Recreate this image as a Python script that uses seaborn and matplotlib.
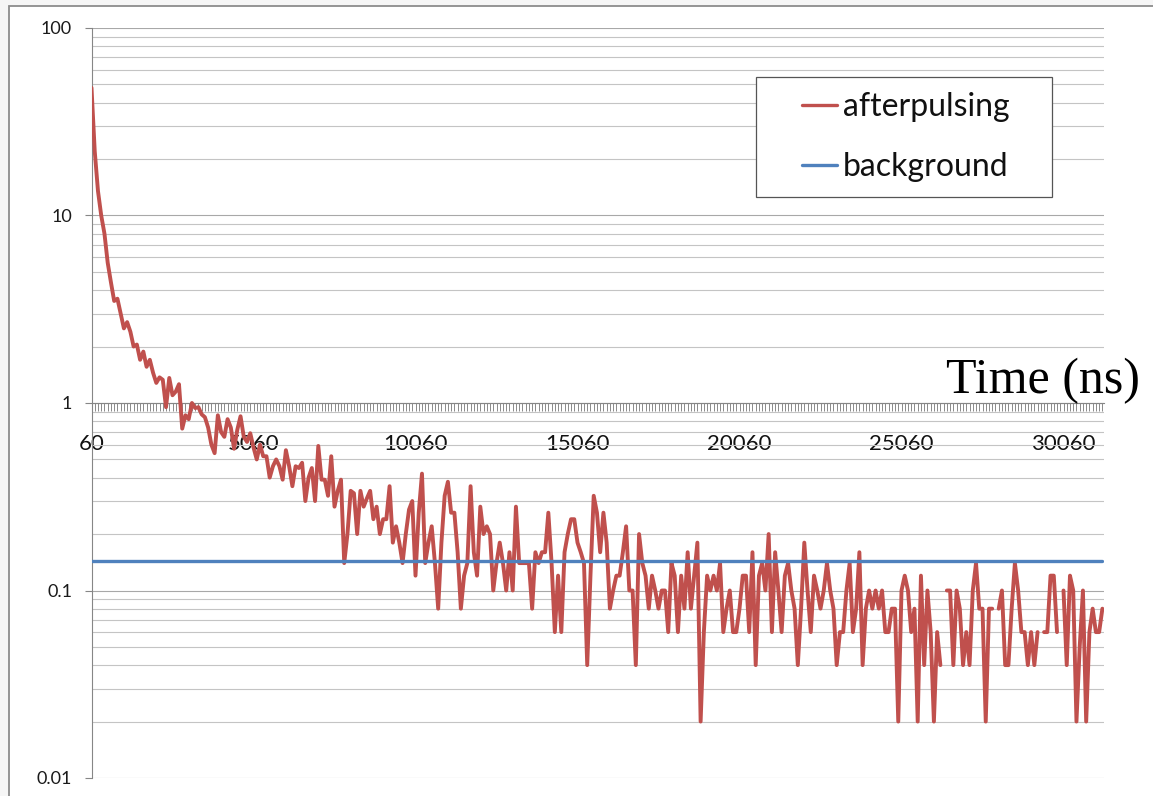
import numpy as np
import pandas as pd
import matplotlib
matplotlib.use("Agg")
import matplotlib.pyplot as plt
from matplotlib.lines import Line2D
from matplotlib.patches import Rectangle
from matplotlib.ticker import FixedLocator, LogLocator, NullFormatter, FixedFormatter
import seaborn as sns

# ---- data -------------------------------------------------------------
# time bins (ns), one every 100 ns
time_ns = list(range(60, 31261, 100))

# afterpulsing rate per bin (NaN = empty bin, not shown on the log axis)
nan = float("nan")
afterpulsing = [
    48, 22, 13.5, 10, 8, 5.6, 4.4, 3.5, 3.6, 3.0,
    2.5, 2.7, 2.4, 2.0, 2.05, 1.7, 1.88, 1.56, 1.7, 1.45,
    1.28, 1.37, 1.33, 0.95, 1.36, 1.1, 1.15, 1.26, 0.73, 0.86,
    0.82, 1.0, 0.94, 0.95, 0.87, 0.84, 0.74, 0.6, 0.54, 0.86,
    0.7, 0.66, 0.82, 0.74, 0.57, 0.72, 0.85, 0.66, 0.62, 0.69,
    0.58, 0.5, 0.6, 0.52, 0.52, 0.4, 0.46, 0.5, 0.46, 0.39,
    0.56, 0.46, 0.36, 0.46, 0.45, 0.48, 0.3, 0.4, 0.45, 0.3,
    0.59, 0.39, 0.39, 0.32, 0.52, 0.28, 0.34, 0.39, 0.14, 0.2,
    0.34, 0.33, 0.2, 0.34, 0.28, 0.31, 0.34, 0.24, 0.28, 0.2,
    0.24, 0.24, 0.36, 0.18, 0.22, 0.18, 0.14, 0.2, 0.27, 0.3,
    0.12, 0.26, 0.42, 0.14, 0.18, 0.22, 0.14, 0.08, 0.18, 0.32,
    0.38, 0.26, 0.26, 0.16, 0.08, 0.12, 0.14, 0.36, 0.16, 0.12,
    0.28, 0.2, 0.22, 0.2, 0.1, 0.14, 0.18, 0.14, 0.1, 0.16,
    0.1, 0.28, 0.14, 0.14, 0.14, 0.14, 0.08, 0.16, 0.14, 0.16,
    0.16, 0.26, 0.14, 0.06, 0.12, 0.06, 0.16, 0.2, 0.24, 0.24,
    0.18, 0.16, 0.14, 0.04, 0.12, 0.32, 0.26, 0.16, 0.26, 0.18,
    0.08, 0.1, 0.12, 0.12, 0.16, 0.22, 0.1, 0.1, 0.04, 0.2,
    0.14, 0.12, 0.08, 0.12, 0.1, 0.08, 0.1, 0.1, 0.06, 0.14,
    0.12, 0.06, 0.12, 0.08, 0.16, 0.08, 0.12, 0.18, 0.02, 0.06,
    0.12, 0.1, 0.12, 0.1, 0.14, 0.06, 0.08, 0.1, 0.06, 0.06,
    0.08, 0.12, 0.12, 0.06, 0.16, 0.04, 0.12, 0.14, 0.1, 0.2,
    0.06, 0.16, 0.1, 0.06, 0.12, 0.14, 0.1, 0.08, 0.04, 0.08,
    0.18, 0.1, 0.06, 0.12, 0.1, 0.08, 0.1, 0.14, 0.1, 0.08,
    0.04, 0.06, 0.06, 0.1, 0.14, 0.06, 0.08, 0.16, 0.04, 0.08,
    0.1, 0.08, 0.1, 0.08, 0.1, 0.06, 0.06, 0.08, 0.08, 0.02,
    0.1, 0.12, 0.1, 0.06, 0.08, 0.02, 0.12, 0.04, 0.1, 0.06,
    0.02, 0.06, 0.04, nan, 0.1, 0.1, 0.04, 0.1, 0.08, 0.04,
    0.06, 0.04, 0.1, 0.14, 0.08, 0.08, 0.02, 0.08, 0.08, nan,
    0.08, 0.1, 0.04, 0.04, 0.08, 0.14, 0.1, 0.06, 0.06, 0.04,
    0.06, 0.04, 0.06, nan, 0.06, 0.06, 0.12, 0.12, 0.06, nan,
    0.1, 0.04, 0.12, 0.1, 0.02, 0.05, 0.1, 0.02, 0.06, 0.08,
    0.06, 0.06, 0.08,
]

# flat background level
background_level = 0.143
background = [background_level] * len(time_ns)

series_names = ["afterpulsing", "background"]
series_colors = ["#C0504D", "#4F81BD"]

y_tick_values = [0.01, 0.1, 1, 10, 100]
y_tick_labels = ["0.01", "0.1", "1", "10", "100"]
x_label_times = [60, 5060, 10060, 15060, 20060, 25060, 30060]

# ---- long-form table ---------------------------------------------------
n = len(time_ns)
pos = np.arange(n)
ap = np.array(afterpulsing, dtype=float)
df_ap = pd.DataFrame({"pos": pos, "value": ap, "series": series_names[0],
                      "segment": np.cumsum(np.isnan(ap))}).dropna()
df_bg = pd.DataFrame({"pos": pos, "value": background, "series": series_names[1],
                      "segment": 0})

# ---- figure --------------------------------------------------------------
sns.set_style("white")
plt.rcParams["font.family"] = ["Lato", "DejaVu Sans"]

W, H = 1153, 796
fig = plt.figure(figsize=(W / 100, H / 100), dpi=100)
fig.patch.set_facecolor("#f6f6f6")


def fx(px):
    return px / W


def fy(py):
    return 1 - py / H


# chart frame
fig.add_artist(Rectangle((fx(9), -0.1), 1.2, fy(6) + 0.1, transform=fig.transFigure,
                         facecolor="white", edgecolor="#8c8c8c", lw=1.3, zorder=0))

ax_l, ax_r, ax_t, ax_b = 91.5, 1104, 28, 778
ax = fig.add_axes([fx(ax_l), fy(ax_b), fx(ax_r) - fx(ax_l), fy(ax_t) - fy(ax_b)])
ax.patch.set_alpha(0)

palette = dict(zip(series_names, series_colors))
sns.lineplot(data=df_ap, x="pos", y="value", hue="series", units="segment",
             estimator=None, palette=palette, linewidth=2.8, legend=False, ax=ax,
             zorder=3)
sns.lineplot(data=df_bg, x="pos", y="value", hue="series", units="segment",
             estimator=None, palette=palette, linewidth=2.4, legend=False, ax=ax,
             zorder=4)

ax.set_yscale("log")
ax.set_ylim(0.01, 100)
ax.set_xlim(0, n - 0.5)
ax.set_xlabel("")
ax.set_ylabel("")

# y axis
ax.yaxis.set_major_locator(FixedLocator(y_tick_values))
ax.yaxis.set_major_formatter(FixedFormatter(y_tick_labels))
ax.yaxis.set_minor_locator(LogLocator(base=10, subs=np.arange(2, 10)))
ax.yaxis.set_minor_formatter(NullFormatter())
ax.tick_params(axis="y", which="major", length=5, width=0.8, color="#868686",
               labelsize=13, labelcolor="#1a1a1a", pad=9, left=True)
ax.tick_params(axis="y", which="minor", length=0)
ax.grid(True, axis="y", which="major", color="#a8a8a8", lw=0.8)
ax.grid(True, axis="y", which="minor", color="#c4c4c4", lw=0.8)
ax.grid(False, axis="x", which="both")

# x (category) axis crossing at y = 1
label_pos = [time_ns.index(t) for t in x_label_times]
ax.xaxis.set_major_locator(FixedLocator(label_pos))
ax.xaxis.set_major_formatter(FixedFormatter([str(t) for t in x_label_times]))
ax.xaxis.set_minor_locator(FixedLocator(pos))
ax.tick_params(axis="x", which="both", direction="out", length=6, width=0.7,
               color="#8a8a8a", bottom=True)
ax.tick_params(axis="x", which="major", labelsize=16, labelcolor="#111111", pad=16)

for side in ["top", "right"]:
    ax.spines[side].set_visible(False)
ax.spines["bottom"].set_position(("data", 1))
ax.spines["bottom"].set_color("#868686")
ax.spines["bottom"].set_linewidth(0.8)
ax.spines["left"].set_color("#868686")
ax.spines["left"].set_linewidth(0.8)
ax.spines["bottom"].set_zorder(2)

# axis title
fig.text(fx(1140), fy(393), "Time (ns)", ha="right", va="baseline",
         family="Liberation Serif", size=36, color="black")

# legend
ax.add_patch(Rectangle((fx(756), fy(197)), fx(1052) - fx(756), fy(77) - fy(197),
                       transform=fig.transFigure, facecolor="white",
                       edgecolor="#555555", lw=0.9, zorder=6, clip_on=False))
handles = [Line2D([], [], color=c, lw=2.4) for c in series_colors]
leg = ax.legend(handles, series_names, loc="upper left",
                bbox_to_anchor=(fx(802), fy(92)), bbox_transform=fig.transFigure,
                frameon=False, fontsize=23, handlelength=1.1, handletextpad=0.18,
                borderpad=0, borderaxespad=0, labelspacing=0.95)
leg.set_zorder(7)
for t in leg.get_texts():
    t.set_color("#111111")

fig.savefig("out.png", dpi=100, facecolor=fig.get_facecolor())
